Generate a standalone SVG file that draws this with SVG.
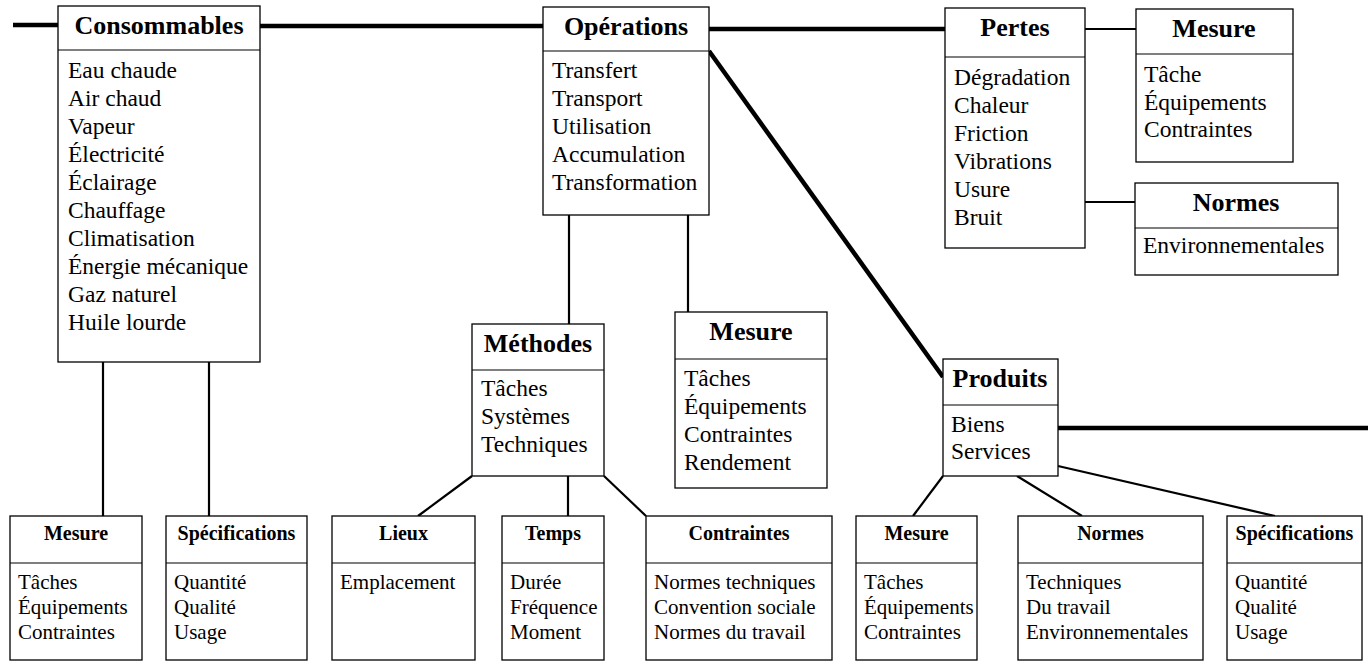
<svg xmlns="http://www.w3.org/2000/svg" width="1368" height="662" viewBox="0 0 1368 662">
<style>
.box{fill:#fff;stroke:#000;stroke-width:1.3}
.sep{stroke:#000;stroke-width:1.2}
.h{font-family:"Liberation Serif",serif;font-weight:bold;font-size:26px;text-anchor:middle;fill:#000}
.b{font-family:"Liberation Serif",serif;font-size:23.5px;fill:#000}
.hs{font-family:"Liberation Serif",serif;font-weight:bold;font-size:20px;text-anchor:middle;fill:#000}
.bs{font-family:"Liberation Serif",serif;font-size:21px;fill:#000}
.thick{stroke:#000;stroke-width:4.5;fill:none}
.thin{stroke:#000;stroke-width:2.2;fill:none}
</style>
<rect width="1368" height="662" fill="#fff"/>
<g id="connectors">
<line class="thick" x1="13" y1="25" x2="58" y2="25"/>
<line class="thick" x1="260" y1="26" x2="543" y2="26"/>
<line class="thick" x1="709" y1="29" x2="945" y2="29"/>
<line class="thick" x1="709" y1="51" x2="943" y2="377"/>
<line class="thick" x1="1058" y1="428" x2="1368" y2="428"/>
<line class="thin" x1="1085" y1="29" x2="1136" y2="29"/>
<line class="thin" x1="1085" y1="202" x2="1135" y2="202"/>
<line class="thin" x1="103" y1="362" x2="103" y2="516"/>
<line class="thin" x1="209" y1="362" x2="209" y2="516"/>
<line class="thin" x1="569" y1="215" x2="569" y2="324"/>
<line class="thin" x1="688" y1="215" x2="688" y2="312"/>
<line class="thin" x1="472" y1="476" x2="418" y2="516"/>
<line class="thin" x1="568" y1="476" x2="568" y2="516"/>
<line class="thin" x1="604" y1="476" x2="646" y2="516"/>
<line class="thin" x1="943" y1="476" x2="913" y2="516"/>
<line class="thin" x1="1017" y1="476" x2="1082" y2="516"/>
<line class="thin" x1="1058" y1="466" x2="1275" y2="516"/>
</g>
<g id="consommables">
<rect class="box" x="58" y="6" width="202" height="356"/>
<line class="sep" x1="58" y1="50" x2="260" y2="50"/>
<text class="h" x="159" y="34">Consommables</text>
<text class="b" x="68" y="78">Eau chaude</text>
<text class="b" x="68" y="106">Air chaud</text>
<text class="b" x="68" y="134">Vapeur</text>
<text class="b" x="68" y="162">Électricité</text>
<text class="b" x="68" y="190">Éclairage</text>
<text class="b" x="68" y="218">Chauffage</text>
<text class="b" x="68" y="246">Climatisation</text>
<text class="b" x="68" y="274">Énergie mécanique</text>
<text class="b" x="68" y="302">Gaz naturel</text>
<text class="b" x="68" y="330">Huile lourde</text>
</g>
<g id="operations">
<rect class="box" x="543" y="7" width="166" height="208"/>
<line class="sep" x1="543" y1="51" x2="709" y2="51"/>
<text class="h" x="626" y="35">Opérations</text>
<text class="b" x="552" y="78">Transfert</text>
<text class="b" x="552" y="106">Transport</text>
<text class="b" x="552" y="134">Utilisation</text>
<text class="b" x="552" y="162">Accumulation</text>
<text class="b" x="552" y="190">Transformation</text>
</g>
<g id="pertes">
<rect class="box" x="945" y="8" width="140" height="240"/>
<line class="sep" x1="945" y1="57" x2="1085" y2="57"/>
<text class="h" x="1015" y="36">Pertes</text>
<text class="b" x="954" y="85">Dégradation</text>
<text class="b" x="954" y="113">Chaleur</text>
<text class="b" x="954" y="141">Friction</text>
<text class="b" x="954" y="169">Vibrations</text>
<text class="b" x="954" y="197">Usure</text>
<text class="b" x="954" y="225">Bruit</text>
</g>
<g id="mesure-pertes">
<rect class="box" x="1136" y="9" width="157" height="153"/>
<line class="sep" x1="1136" y1="54" x2="1293" y2="54"/>
<text class="h" x="1214" y="37">Mesure</text>
<text class="b" x="1144" y="82">Tâche</text>
<text class="b" x="1144" y="110">Équipements</text>
<text class="b" x="1144" y="137">Contraintes</text>
</g>
<g id="normes-pertes">
<rect class="box" x="1135" y="183" width="203" height="92"/>
<line class="sep" x1="1135" y1="228" x2="1338" y2="228"/>
<text class="h" x="1236" y="211">Normes</text>
<text class="b" x="1143" y="253">Environnementales</text>
</g>
<g id="methodes">
<rect class="box" x="472" y="324" width="132" height="152"/>
<line class="sep" x1="472" y1="370" x2="604" y2="370"/>
<text class="h" x="538" y="352">Méthodes</text>
<text class="b" x="481" y="396">Tâches</text>
<text class="b" x="481" y="424">Systèmes</text>
<text class="b" x="481" y="452">Techniques</text>
</g>
<g id="mesure-operations">
<rect class="box" x="675" y="312" width="152" height="176"/>
<line class="sep" x1="675" y1="359" x2="827" y2="359"/>
<text class="h" x="751" y="340">Mesure</text>
<text class="b" x="684" y="386">Tâches</text>
<text class="b" x="684" y="414">Équipements</text>
<text class="b" x="684" y="442">Contraintes</text>
<text class="b" x="684" y="470">Rendement</text>
</g>
<g id="produits">
<rect class="box" x="943" y="359" width="115" height="117"/>
<line class="sep" x1="943" y1="405" x2="1058" y2="405"/>
<text class="h" x="1000" y="387">Produits</text>
<text class="b" x="951" y="432">Biens</text>
<text class="b" x="951" y="459">Services</text>
</g>
<g id="mesure-consommables">
<rect class="box" x="10" y="516" width="132" height="144"/>
<line class="sep" x1="10" y1="563" x2="142" y2="563"/>
<text class="hs" x="76" y="540">Mesure</text>
<text class="bs" x="18" y="589">Tâches</text>
<text class="bs" x="18" y="614">Équipements</text>
<text class="bs" x="18" y="639">Contraintes</text>
</g>
<g id="specifications-consommables">
<rect class="box" x="166" y="516" width="141" height="144"/>
<line class="sep" x1="166" y1="563" x2="307" y2="563"/>
<text class="hs" x="236.5" y="540">Spécifications</text>
<text class="bs" x="174" y="589">Quantité</text>
<text class="bs" x="174" y="614">Qualité</text>
<text class="bs" x="174" y="639">Usage</text>
</g>
<g id="lieux">
<rect class="box" x="332" y="516" width="143" height="144"/>
<line class="sep" x1="332" y1="563" x2="475" y2="563"/>
<text class="hs" x="403.5" y="540">Lieux</text>
<text class="bs" x="340" y="589">Emplacement</text>
</g>
<g id="temps">
<rect class="box" x="502" y="516" width="102" height="144"/>
<line class="sep" x1="502" y1="563" x2="604" y2="563"/>
<text class="hs" x="553" y="540">Temps</text>
<text class="bs" x="510" y="589">Durée</text>
<text class="bs" x="510" y="614">Fréquence</text>
<text class="bs" x="510" y="639">Moment</text>
</g>
<g id="contraintes">
<rect class="box" x="646" y="516" width="186" height="144"/>
<line class="sep" x1="646" y1="563" x2="832" y2="563"/>
<text class="hs" x="739" y="540">Contraintes</text>
<text class="bs" x="654" y="589">Normes techniques</text>
<text class="bs" x="654" y="614">Convention sociale</text>
<text class="bs" x="654" y="639">Normes du travail</text>
</g>
<g id="mesure-produits">
<rect class="box" x="856" y="516" width="121" height="144"/>
<line class="sep" x1="856" y1="563" x2="977" y2="563"/>
<text class="hs" x="916.5" y="540">Mesure</text>
<text class="bs" x="864" y="589">Tâches</text>
<text class="bs" x="864" y="614">Équipements</text>
<text class="bs" x="864" y="639">Contraintes</text>
</g>
<g id="normes-produits">
<rect class="box" x="1018" y="516" width="185" height="144"/>
<line class="sep" x1="1018" y1="563" x2="1203" y2="563"/>
<text class="hs" x="1110.5" y="540">Normes</text>
<text class="bs" x="1026" y="589">Techniques</text>
<text class="bs" x="1026" y="614">Du travail</text>
<text class="bs" x="1026" y="639">Environnementales</text>
</g>
<g id="specifications-produits">
<rect class="box" x="1227" y="516" width="135" height="144"/>
<line class="sep" x1="1227" y1="563" x2="1362" y2="563"/>
<text class="hs" x="1294.5" y="540">Spécifications</text>
<text class="bs" x="1235" y="589">Quantité</text>
<text class="bs" x="1235" y="614">Qualité</text>
<text class="bs" x="1235" y="639">Usage</text>
</g>
</svg>
